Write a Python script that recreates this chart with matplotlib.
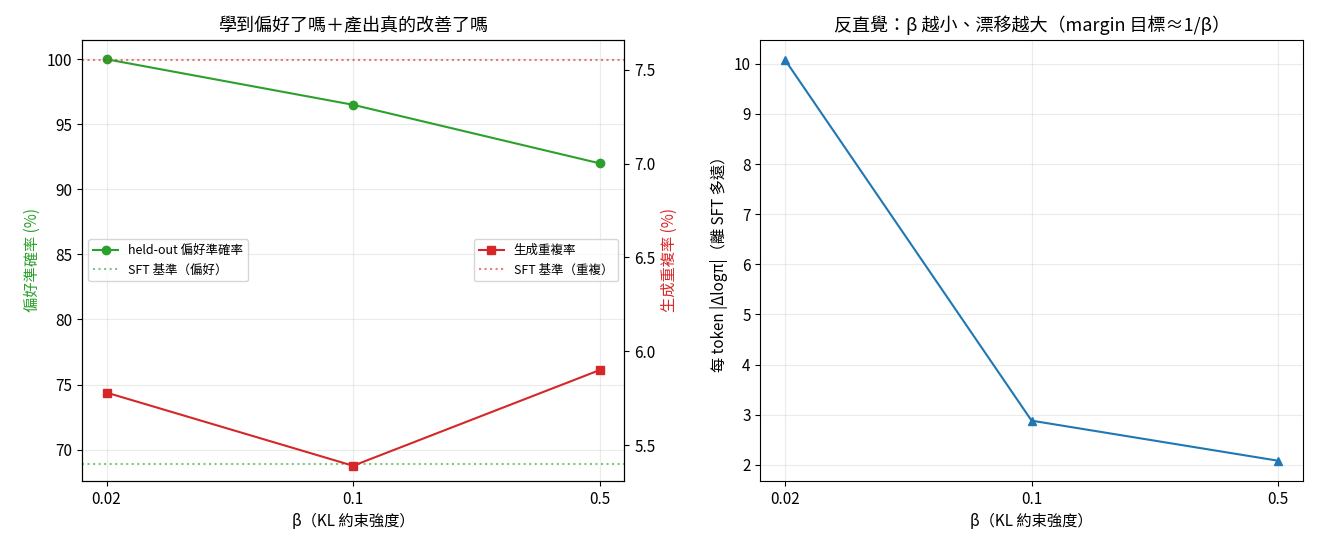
import matplotlib.pyplot as plt
import numpy as np

plt.rcParams['font.family'] = ['Noto Sans CJK TC', 'DejaVu Sans']
plt.rcParams['font.size'] = 11

betas = [0.02, 0.1, 0.5]
beta_labels = ['0.02', '0.1', '0.5']
pref_acc = [100.0, 96.5, 92.0]
sft_pref = 68.9
repeat_rate = [5.78, 5.39, 5.90]
sft_repeat = 7.55
drift = [10.08, 2.88, 2.08]

fig = plt.figure(figsize=(13.2, 5.52), dpi=100)
ax1 = fig.add_axes([0.062, 0.129, 0.411, 0.799])
ax3 = fig.add_axes([0.576, 0.129, 0.411, 0.799])

ax1.plot(betas, pref_acc, '-o', color='#2ca02c', label='held-out 偏好準確率')
ax1.axhline(sft_pref, color='#2ca02c', ls=':', alpha=0.6, label='SFT 基準（偏好）')
ax1.set_xscale('log')
ax1.set_xticks(betas)
ax1.set_xticklabels(beta_labels)
ax1.minorticks_off()
ax1.set_xlabel('β（KL 約束強度）')
ax1.set_ylabel('偏好準確率 (%)', color='#2ca02c')
ax1.grid(alpha=0.25)
ax1.set_ylim(67.6, 101.5)
ax1.legend(loc='center left', fontsize=9)

ax2 = ax1.twinx()
ax2.plot(betas, repeat_rate, '-s', color='#d62728', label='生成重複率')
ax2.axhline(sft_repeat, color='#d62728', ls=':', alpha=0.6, label='SFT 基準（重複）')
ax2.set_ylabel('生成重複率 (%)', color='#d62728')
ax2.set_ylim(5.31, 7.66)
ax2.legend(loc='center right', fontsize=9)
ax2.minorticks_off()
ax1.set_title('學到偏好了嗎＋產出真的改善了嗎', fontsize=13)

ax3.plot(betas, drift, '-^', color='#1f77b4')
ax3.set_xscale('log')
ax3.set_xticks(betas)
ax3.set_xticklabels(beta_labels)
ax3.minorticks_off()
ax3.set_xlabel('β（KL 約束強度）')
ax3.set_ylabel('每 token |Δlogπ|（離 SFT 多遠）')
ax3.set_title('反直覺：β 越小、漂移越大（margin 目標≈1/β）', fontsize=13)
ax3.grid(alpha=0.25)

plt.savefig('out.png')
